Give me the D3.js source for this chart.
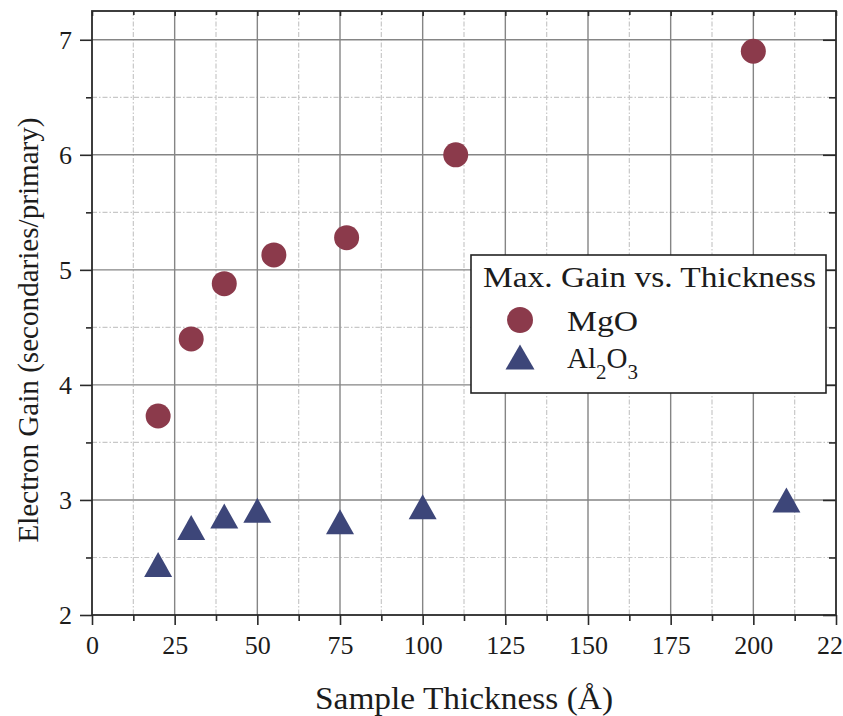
<!DOCTYPE html>
<html>
<head>
<meta charset="utf-8">
<script src="https://cdn.jsdelivr.net/npm/d3@7"></script>
<style>
  body { margin: 0; background: #fff; }
  text { font-family: "Liberation Serif", "Times New Roman", Times, serif; fill: #1c1c1c; }
</style>
</head>
<body>
<script>
// data
var mgoThickness = [20, 30, 40, 55, 77, 110, 200];
var mgoGain = [3.73, 4.40, 4.88, 5.13, 5.28, 6.00, 6.90];
var alThickness = [20, 30, 40, 50, 75, 100, 210];
var alGain = [2.44, 2.76, 2.86, 2.91, 2.81, 2.94, 3.00];

var xTicks = [0, 25, 50, 75, 100, 125, 150, 175, 200, 225];
var xMinor = [12.5, 37.5, 62.5, 87.5, 112.5, 137.5, 162.5, 187.5, 212.5];
var yTicks = [2, 3, 4, 5, 6, 7];
var yMinor = [2.5, 3.5, 4.5, 5.5, 6.5];

var legendTitle = 'Max. Gain vs. Thickness';
var seriesNames = ['MgO', 'Al2O3'];

var W = 843, H = 716;
var margin = {top: 11, right: 7, bottom: 101, left: 92};
var width = W - margin.left - margin.right;
var height = H - margin.top - margin.bottom;
var serif = '"Liberation Serif", "Times New Roman", Times, serif';

var x = d3.scaleLinear().domain([0, 225]).range([0, width]);
var y = d3.scaleLinear().domain([2, 7.25]).range([height, 0]);

var svg = d3.select('body').append('svg').attr('width', W).attr('height', H);
var g = svg.append('g').attr('transform', `translate(${margin.left},${margin.top})`);

// minor grid (dash-dot, light)
g.selectAll('line.gx-minor')
	.data(xMinor)
	.enter().append('line')
		.attr('x1', d => x(d)).attr('x2', d => x(d))
		.attr('y1', 0).attr('y2', height)
		.attr('stroke', '#c8c8c8').attr('stroke-width', 1.2)
		.attr('stroke-dasharray', '5,2,1.5,2');
g.selectAll('line.gy-minor')
	.data(yMinor)
	.enter().append('line')
		.attr('y1', d => y(d)).attr('y2', d => y(d))
		.attr('x1', 0).attr('x2', width)
		.attr('stroke', '#c8c8c8').attr('stroke-width', 1.2)
		.attr('stroke-dasharray', '5,2,1.5,2');

// major grid
g.selectAll('line.gx')
	.data(xTicks.slice(1, -1))
	.enter().append('line')
		.attr('x1', d => x(d)).attr('x2', d => x(d))
		.attr('y1', 0).attr('y2', height)
		.attr('stroke', '#858585').attr('stroke-width', 1.4);
g.selectAll('line.gy')
	.data(yTicks.slice(1))
	.enter().append('line')
		.attr('y1', d => y(d)).attr('y2', d => y(d))
		.attr('x1', 0).attr('x2', width)
		.attr('stroke', '#858585').attr('stroke-width', 1.4);

// axes
function styleAxis(sel) {
	sel.attr('font-family', serif);
	sel.select('.domain').remove();
	sel.selectAll('line').attr('stroke', '#2a2a2a').attr('stroke-width', 1.6);
	sel.selectAll('text')
		.attr('font-family', serif)
		.attr('font-size', 26)
		.attr('fill', '#1c1c1c');
}

g.append('g').attr('transform', `translate(0,${height})`)
	.call(d3.axisBottom(x).tickValues(xTicks).tickSize(10).tickPadding(11).tickFormat(d3.format('d')))
	.call(styleAxis);
g.append('g').attr('transform', `translate(0,${height})`)
	.call(d3.axisBottom(x).tickValues(xMinor).tickSize(6).tickFormat(''))
	.call(styleAxis);
g.append('g')
	.call(d3.axisLeft(y).tickValues(yTicks).tickSize(12).tickPadding(8).tickFormat(d3.format('d')))
	.call(styleAxis);
g.append('g')
	.call(d3.axisLeft(y).tickValues(yMinor).tickSize(6).tickFormat(''))
	.call(styleAxis);
g.append('g')
	.call(d3.axisTop(x).tickValues(xTicks).tickSize(-5).tickFormat(''))
	.call(styleAxis);
g.append('g')
	.call(d3.axisTop(x).tickValues(xMinor).tickSize(-4).tickFormat(''))
	.call(styleAxis);
g.append('g').attr('transform', `translate(${width},0)`)
	.call(d3.axisRight(y).tickValues(yTicks).tickSize(-13).tickFormat(''))
	.call(styleAxis);
g.append('g').attr('transform', `translate(${width},0)`)
	.call(d3.axisRight(y).tickValues(yMinor).tickSize(-7).tickFormat(''))
	.call(styleAxis);

// frame
g.append('rect')
	.attr('width', width).attr('height', height)
	.attr('fill', 'none').attr('stroke', '#2a2a2a').attr('stroke-width', 1.8);

// markers
var triangle = (w, h) => `M0,${-h / 2}L${w / 2},${h / 2}L${-w / 2},${h / 2}Z`;

g.selectAll('circle.mgo')
	.data(d3.zip(mgoThickness, mgoGain))
	.enter().append('circle')
		.attr('class', 'mgo')
		.attr('cx', d => x(d[0]))
		.attr('cy', d => y(d[1]))
		.attr('r', 12.5)
		.attr('fill', '#8b3a4b');

g.selectAll('path.al')
	.data(d3.zip(alThickness, alGain))
	.enter().append('path')
		.attr('class', 'al')
		.attr('d', triangle(28, 25))
		.attr('transform', d => `translate(${x(d[0])},${y(d[1])})`)
		.attr('fill', '#3d4679');

// axis labels
svg.append('text')
	.attr('x', 464).attr('y', 709)
	.attr('text-anchor', 'middle')
	.attr('font-size', 31)
	.attr('textLength', 298).attr('lengthAdjust', 'spacingAndGlyphs')
	.text('Sample Thickness (Å)');

svg.append('text')
	.attr('transform', 'translate(38,330) rotate(-90)')
	.attr('text-anchor', 'middle')
	.attr('font-size', 29)
	.attr('textLength', 425).attr('lengthAdjust', 'spacingAndGlyphs')
	.text('Electron Gain (secondaries/primary)');

// legend
var legend = svg.append('g');
legend.append('rect')
	.attr('x', 471).attr('y', 255)
	.attr('width', 355).attr('height', 138)
	.attr('fill', '#fff').attr('stroke', '#222').attr('stroke-width', 1.6);

legend.append('text')
	.attr('x', 483).attr('y', 287)
	.attr('font-size', 29)
	.attr('textLength', 333).attr('lengthAdjust', 'spacingAndGlyphs')
	.text(legendTitle);

legend.append('circle')
	.attr('cx', 520).attr('cy', 320).attr('r', 13)
	.attr('fill', '#8b3a4b');
legend.append('text')
	.attr('x', 567).attr('y', 331)
	.attr('font-size', 29)
	.attr('textLength', 71).attr('lengthAdjust', 'spacingAndGlyphs')
	.text(seriesNames[0]);

legend.append('path')
	.attr('d', triangle(29, 25))
	.attr('transform', 'translate(520,357)')
	.attr('fill', '#3d4679');

var al = legend.append('text')
	.attr('x', 567).attr('y', 368)
	.attr('font-size', 29);
al.append('tspan').text('Al');
al.append('tspan').attr('font-size', 21).attr('dy', 11).text('2');
al.append('tspan').attr('dy', -11).text('O');
al.append('tspan').attr('font-size', 21).attr('dy', 11).text('3');
</script>
</body>
</html>
